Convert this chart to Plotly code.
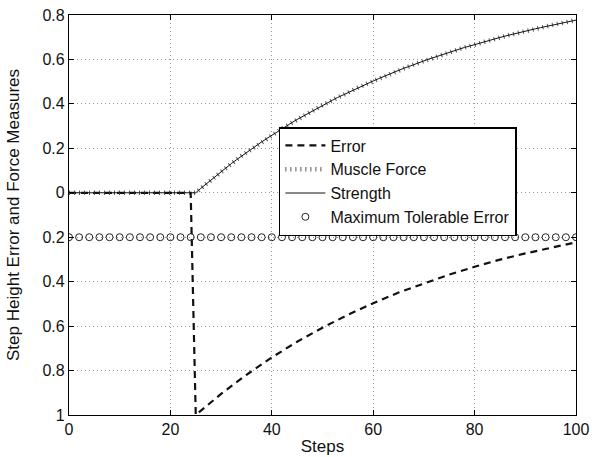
import plotly.graph_objects as go

steps = list(range(0, 101))

# Strength (and Muscle Force, which coincides with it), one value per step
strength = [0.0] * 26 + [
    0.020, 0.039, 0.058, 0.077, 0.095, 0.113, 0.131, 0.148, 0.165, 0.181,
    0.198, 0.213, 0.229, 0.244, 0.259, 0.274, 0.288, 0.302, 0.316, 0.330,
    0.343, 0.356, 0.369, 0.381, 0.394, 0.406, 0.417, 0.429, 0.440, 0.451,
    0.462, 0.473, 0.483, 0.493, 0.503, 0.513, 0.523, 0.532, 0.541, 0.551,
    0.560, 0.568, 0.577, 0.585, 0.593, 0.602, 0.609, 0.617, 0.625, 0.632,
    0.639, 0.647, 0.654, 0.660, 0.667, 0.674, 0.680, 0.687, 0.693, 0.699,
    0.705, 0.711, 0.716, 0.722, 0.728, 0.733, 0.738, 0.743, 0.748, 0.753,
    0.758, 0.763, 0.768, 0.772, 0.777,
]
muscle_force = strength

error_steps = [0, 24, 25, 27, 30, 35, 40, 45, 50, 55, 60, 65, 70, 75, 80, 85, 90, 95, 100]
error_vals = [0.0, 0.0, -1.0, -0.961, -0.905, -0.819, -0.741, -0.670, -0.607, -0.549,
              -0.497, -0.449, -0.407, -0.368, -0.333, -0.301, -0.273, -0.247, -0.223]

tol_steps = list(range(0, 101, 2))
tol_vals = [-0.2] * len(tol_steps)

y_tick_vals = [-1, -0.8, -0.6, -0.4, -0.2, 0, 0.2, 0.4, 0.6, 0.8]
y_tick_text = ["1", "0.8", "0.6", "0.4", "0.2", "0", "0.2", "0.4", "0.6", "0.8"]
x_tick_vals = [0, 20, 40, 60, 80, 100]

font = "Liberation Sans, Arial, sans-serif"

fig = go.Figure()
fig.add_trace(go.Scatter(
    x=error_steps, y=error_vals, mode="lines", name="Error",
    line=dict(color="#111", width=2.2, dash="7px,5px"),
))
fig.add_trace(go.Scatter(
    x=steps, y=muscle_force, mode="lines", name="Muscle Force",
    line=dict(color="#555", width=4.5, dash="1px,4px"),
))
fig.add_trace(go.Scatter(
    x=steps, y=strength, mode="lines", name="Strength",
    line=dict(color="#111", width=1),
))
fig.add_trace(go.Scatter(
    x=tol_steps, y=tol_vals, mode="markers", name="Maximum Tolerable Error",
    marker=dict(symbol="circle-open", size=7, color="#222", line=dict(width=1, color="#222")),
))

axis_common = dict(
    showline=True, linecolor="black", linewidth=1.2, mirror="ticks",
    ticks="inside", ticklen=5, tickcolor="black", tickwidth=1,
    showgrid=True, gridcolor="#999", griddash="1px,3px", gridwidth=1,
    zeroline=False, automargin=False, ticklabeloverflow="allow",
    tickfont=dict(family=font, size=16, color="#111"),
)

fig.update_xaxes(
    range=[0, 100], tickvals=x_tick_vals,
    title=dict(text="Steps", font=dict(family=font, size=17, color="#111"), standoff=2),
    **axis_common,
)
fig.update_yaxes(
    range=[-1, 0.8], tickvals=y_tick_vals, ticktext=y_tick_text,
    title=dict(text="Step Height Error and Force Measures", font=dict(family=font, size=17, color="#111"), standoff=18),
    **axis_common,
)

fig.update_layout(
    width=592, height=457,
    margin=dict(l=69, r=16, t=15, b=42),
    paper_bgcolor="white", plot_bgcolor="white",
    font=dict(family=font, size=16, color="#111"),
    showlegend=True,
    legend=dict(
        x=0.414, y=0.72, xanchor="left", yanchor="top",
        bgcolor="white", bordercolor="black", borderwidth=1.5,
        font=dict(family=font, size=16, color="#111"),
        tracegroupgap=0, itemwidth=40,
    ),
)

fig.write_html(
    "out.html",
    config={"displayModeBar": False},
    post_script="document.body.style.margin='0';document.documentElement.style.overflow='hidden';",
)
